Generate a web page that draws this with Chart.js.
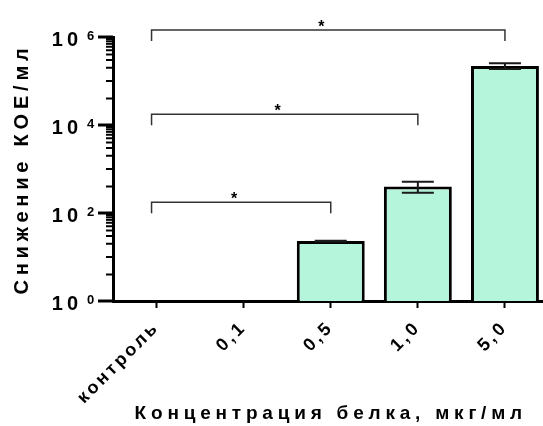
<!DOCTYPE html>
<html>
<head>
<meta charset="utf-8">
<script src="https://cdn.jsdelivr.net/npm/chart.js@4.4.1/dist/chart.umd.min.js"></script>
<style>
  html, body { margin: 0; padding: 0; background: #fff; overflow: hidden; }
  #wrap { width: 543px; height: 426px; overflow: hidden; position: relative; }
  canvas { display: block; }
</style>
</head>
<body>
<div id="wrap"><canvas id="c" width="551" height="426" style="width:551px;height:426px"></canvas></div>
<script>
// Protein concentration groups and mean CFU/ml reduction (with SD)
const categories = ['контроль', '0,1', '0,5', '1,0', '5,0'];
const reduction = [1, 1, 23, 400, 220000];
const reductionSD = [0, 0, 0.5, 110, 32000];

// Log axis: labelled decades and minor tick multipliers inside each labelled interval
const majorTicks = [1, 1e2, 1e4, 1e6];
const majorExponents = ['0', '2', '4', '6'];
const minorSteps = [4, 10, 20, 30, 40, 50, 60, 70, 80, 90];

// Significance brackets against the control group
const comparisons = [
  { from: 0, to: 2, level: 175, label: '*' },
  { from: 0, to: 3, level: 17500, label: '*' },
  { from: 0, to: 4, level: 1.44e6, label: '*' }
];

const yTitle = 'Снижение КОЕ/мл';
const xTitle = 'Концентрация белка, мкг/мл';

const FONT = '"Liberation Sans", Arial, Helvetica, sans-serif';
Chart.defaults.font.family = FONT;
Chart.defaults.font.weight = 'bold';
Chart.defaults.color = '#000';

// wide tracking: titles are drawn before the bars, tick labels after them
const spacing = {
  id: 'spacing',
  beforeDraw(chart) { chart.ctx.letterSpacing = '4.8px'; },
  afterDatasetsDraw(chart) { chart.ctx.letterSpacing = '3px'; }
};

const errorBars = {
  id: 'errorBars',
  afterDatasetsDraw(chart) {
    const ctx = chart.ctx, ys = chart.scales.y;
    const meta = chart.getDatasetMeta(0);
    ctx.save();
    ctx.strokeStyle = '#1a1a1a';
    ctx.lineWidth = 2;
    meta.data.forEach((bar, i) => {
      const sd = reductionSD[i];
      if (!sd) return;
      const x = bar.x;
      const hi = ys.getPixelForValue(reduction[i] + sd);
      const lo = ys.getPixelForValue(reduction[i] - sd);
      const half = 16;
      ctx.beginPath();
      ctx.moveTo(x, hi); ctx.lineTo(x, lo);
      ctx.moveTo(x - half, hi); ctx.lineTo(x + half, hi);
      ctx.moveTo(x - half, lo); ctx.lineTo(x + half, lo);
      ctx.stroke();
    });
    ctx.restore();
  }
};

const logAxis = {
  id: 'logAxis',
  afterDraw(chart) {
    const ctx = chart.ctx, ys = chart.scales.y;
    const x0 = chart.chartArea.left;
    ctx.save();
    ctx.strokeStyle = '#000';
    ctx.fillStyle = '#000';
    majorTicks.forEach((v, k) => {
      const py = ys.getPixelForValue(v);
      ctx.lineWidth = 3;
      ctx.beginPath(); ctx.moveTo(x0 - 15, py); ctx.lineTo(x0, py); ctx.stroke();
      if (k < majorTicks.length - 1) {
        ctx.lineWidth = 2;
        minorSteps.forEach(m => {
          const pm = ys.getPixelForValue(v * m);
          ctx.beginPath(); ctx.moveTo(x0 - 7, pm); ctx.lineTo(x0, pm); ctx.stroke();
        });
      }
      ctx.letterSpacing = '4px';
      ctx.font = 'bold 20px ' + FONT;
      ctx.textAlign = 'right';
      ctx.textBaseline = 'alphabetic';
      ctx.fillText('10', 82, py + 9);
      ctx.letterSpacing = '0px';
      ctx.font = 'bold 13px ' + FONT;
      ctx.textAlign = 'left';
      ctx.fillText(majorExponents[k], 87, py + 3);
    });
    ctx.restore();
  }
};

const brackets = {
  id: 'brackets',
  afterDraw(chart) {
    const ctx = chart.ctx, xs = chart.scales.x, ys = chart.scales.y;
    ctx.save();
    ctx.letterSpacing = '0px';
    ctx.strokeStyle = '#333';
    ctx.lineWidth = 1.5;
    comparisons.forEach(c => {
      const x1 = xs.getPixelForValue(c.from) - 5;
      const x2 = xs.getPixelForValue(c.to);
      const py = ys.getPixelForValue(c.level);
      ctx.beginPath();
      ctx.moveTo(x1, py + 11); ctx.lineTo(x1, py); ctx.lineTo(x2, py); ctx.lineTo(x2, py + 11);
      ctx.stroke();
      ctx.fillStyle = '#000';
      ctx.font = 'bold 16px ' + FONT;
      ctx.textAlign = 'center';
      ctx.textBaseline = 'alphabetic';
      ctx.fillText(c.label, (x1 + x2) / 2 - 7, py + 2);
    });
    ctx.restore();
  }
};

new Chart(document.getElementById('c'), {
  type: 'bar',
  data: {
    labels: categories,
    datasets: [{
      data: reduction,
      backgroundColor: '#b5f5dc',
      borderColor: '#000',
      borderWidth: 3,
      barPercentage: 0.78,
      categoryPercentage: 1
    }]
  },
  options: {
    responsive: false,
    devicePixelRatio: 1,
    animation: false,
    layout: { padding: { top: 37, right: 2.5, left: 0, bottom: 0 } },
    plugins: { legend: { display: false }, tooltip: { enabled: false } },
    scales: {
      x: {
        type: 'category',
        offset: true,
        grid: { display: true, drawOnChartArea: false, drawTicks: true, tickLength: 7, tickWidth: 2, tickColor: '#000', offset: false },
        border: { display: true, color: '#000', width: 3 },
        ticks: { color: '#000', font: { size: 18, weight: 'bold' }, minRotation: 45, maxRotation: 45, padding: 9, autoSkip: false, z: 1 },
        title: { display: true, text: xTitle, color: '#000', font: { size: 19, weight: 'bold' }, padding: { top: 0, bottom: 0.5 } },
        afterFit(s) { s.height = 125; s.paddingLeft = 0; s.paddingRight = 0; }
      },
      y: {
        type: 'logarithmic',
        min: 1,
        max: 1e6,
        grid: { display: false },
        border: { display: true, color: '#000', width: 3 },
        ticks: { display: false },
        title: { display: true, text: yTitle, color: '#000', font: { size: 20, weight: 'bold' }, padding: { top: 10, bottom: 0 } },
        afterFit(s) { s.width = 113; s.paddingTop = 0; s.paddingBottom = 0; }
      }
    }
  },
  plugins: [spacing, errorBars, logAxis, brackets]
});
</script>
</body>
</html>
